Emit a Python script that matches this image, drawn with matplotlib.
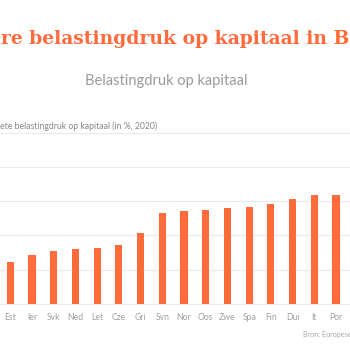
import matplotlib

matplotlib.use("Agg")
import matplotlib.pyplot as plt
import numpy as np

# implicit tax rate on capital (%, 2020)
countries = ["Est", "Ier", "Svk", "Ned", "Let", "Cze", "Gri", "Svn",
             "Nor", "Oos", "Zwe", "Spa", "Fin", "Dui", "It", "Por"]
rates = [12.3, 14.4, 15.3, 16.0, 16.2, 17.3, 20.8, 26.7,
         27.1, 27.3, 28.1, 28.3, 29.1, 30.8, 31.8, 31.9]
y_ticks = [0, 10, 20, 30, 40, 50]

ORANGE = "#ff6b3b"
GRID = "#ebebeb"
GREY = "#a0a0a0"

fig = plt.figure(figsize=(3.5, 3.5), dpi=100)

# the axes run from edge to edge, the picture is a crop of a wider chart
ax = fig.add_axes([0.0, 0.1323, 1.0, 0.4877])
x = np.arange(len(countries))
ax.bar(x, rates, width=0.33, color=ORANGE, zorder=3)
ax.set_xlim(-0.475, len(countries) - 0.355)
ax.set_ylim(0, 50)
for v in y_ticks:
    ax.axhline(v, color=GRID, lw=0.9, zorder=1, clip_on=False)
for s in ax.spines.values():
    s.set_visible(False)
ax.set_yticks([])
ax.set_xticks(x)
ax.set_xticklabels(countries, fontsize=6.2, color=GREY, family="Lato")
ax.tick_params(axis="x", length=0, pad=6.5)

# title and y label are cut off at the left edge in the reference:
# the hidden start of each sits right-aligned just outside the canvas
TITLE_FONT = dict(fontsize=13.5, fontweight="bold", family="DejaVu Serif", color=ORANGE)
fig.text(0.004, 0.891, "Hoge", ha="right", va="center", **TITLE_FONT)
fig.text(0.004, 0.891, "re belastingdruk op kapitaal in België", ha="left", va="center",
         **TITLE_FONT)

fig.text(0.475, 0.77, "Belastingdruk op kapitaal", fontsize=10.5, color="#9a9a9a",
         family="Lato", ha="center", va="center")

LABEL_FONT = dict(fontsize=6.2, family="Lato", color="#888888")
fig.text(0.0, 0.6386, "Implici", ha="right", va="center", **LABEL_FONT)
fig.text(0.0, 0.6386, "ete belastingdruk op kapitaal (in %, 2020)", ha="left", va="center",
         **LABEL_FONT)

fig.text(0.866, 0.043, "Bron: Europese Commissie", fontsize=5.2, color="#aaaaaa",
         family="Lato", ha="left", va="center")

fig.savefig("out.png", dpi=100)
